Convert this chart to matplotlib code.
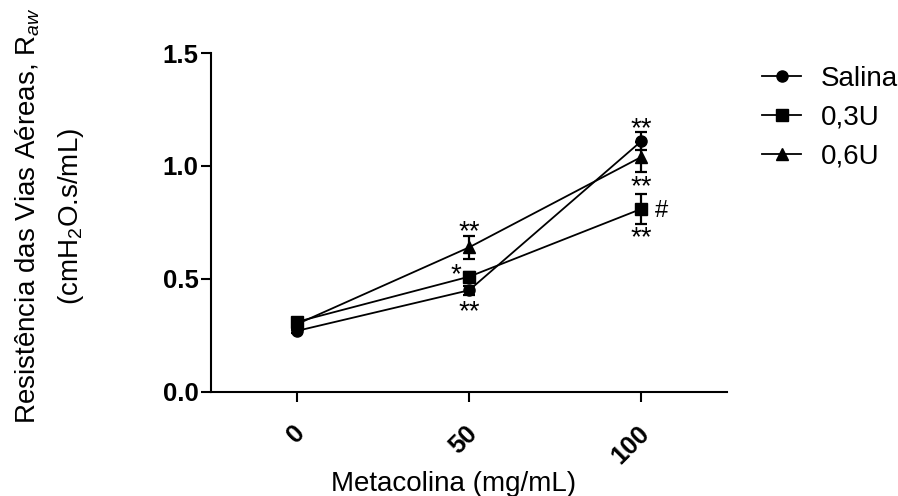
import matplotlib
matplotlib.use("Agg")
import matplotlib.pyplot as plt
from matplotlib.lines import Line2D
from matplotlib.transforms import ScaledTranslation
import numpy as np

plt.rcParams["font.family"] = ["Liberation Sans", "DejaVu Sans"]
plt.rcParams["mathtext.fontset"] = "custom"
plt.rcParams["mathtext.rm"] = "Liberation Sans"
plt.rcParams["mathtext.it"] = "Liberation Sans:italic"

# -----------------------------
# Data
# -----------------------------
doses = [0, 50, 100]
series_names = ["Salina", "0,3U", "0,6U"]
salina_mean = [0.27, 0.45, 1.11]
salina_sem = [0.01, 0.02, 0.04]
u03_mean = [0.31, 0.51, 0.81]
u03_sem = [0.01, 0.02, 0.065]
u06_mean = [0.30, 0.64, 1.04]
u06_sem = [0.01, 0.05, 0.065]
markers = ["o", "s", "^"]

# significance labels: (dose, y, text)
sig_labels = [
    (50, 0.708, "**"),
    (50, 0.354, "**"),
    (100, 1.163, "**"),
    (100, 0.907, "**"),
    (100, 0.681, "**"),
    (46, 0.518, "*"),
    (106, 0.80, "#"),
]

fig = plt.figure(figsize=(8.98, 4.96), dpi=100)
ax = fig.add_axes([0.235, 0.21, 0.575, 0.683])

means = [salina_mean, u03_mean, u06_mean]
sems = [salina_sem, u03_sem, u06_sem]
for name, m, e, mk in zip(series_names, means, sems, markers):
    ax.errorbar(doses, m, yerr=e, color="black", marker=mk, markersize=8,
                linewidth=1.3, elinewidth=1.6, capsize=4, capthick=1.6)

for x, y, txt in sig_labels:
    fs = 17 if txt == "#" else 20
    ax.text(x, y, txt, ha="center", va="center", fontsize=fs)

ax.set_xlim(-25, 125)
ax.set_ylim(0, 1.5)
ax.set_xticks(doses)
ax.set_xticklabels([str(d) for d in doses], rotation=45, ha="right", va="center",
                   rotation_mode="anchor", fontweight="bold", fontsize=18.5)
ax.set_yticks([0.0, 0.5, 1.0, 1.5])
ax.set_yticklabels(["0.0", "0.5", "1.0", "1.5"], fontweight="bold", fontsize=18.5)
ax.tick_params(direction="out", length=7, width=1.5, pad=2)
ax.tick_params(axis="x", pad=20)
shift = ScaledTranslation(0.04, 0, fig.dpi_scale_trans)
for lab in ax.get_xticklabels():
    lab.set_transform(lab.get_transform() + shift)
for side in ["top", "right"]:
    ax.spines[side].set_visible(False)
for side in ["left", "bottom"]:
    ax.spines[side].set_linewidth(1.5)

ax.set_xlabel("Metacolina (mg/mL)", fontsize=20)
ax.xaxis.set_label_coords(0.469, -0.235)
ax.set_ylabel("Resistência das Vias Aéreas, R$_{aw}$\n(cmH$_2$O.s/mL)",
              fontsize=20, linespacing=1.65)
ax.yaxis.set_label_coords(-0.242, 0.519)

handles = [Line2D([], [], color="black", marker=mk, markersize=8, linewidth=1.3)
           for mk in markers]
ax.legend(handles, series_names, loc="upper left", bbox_to_anchor=(1.068, 0.963),
          frameon=False, fontsize=20, handlelength=1.37, handletextpad=0.72,
          labelspacing=0.47, borderpad=0, borderaxespad=0)

fig.savefig("out.png", dpi=100)
